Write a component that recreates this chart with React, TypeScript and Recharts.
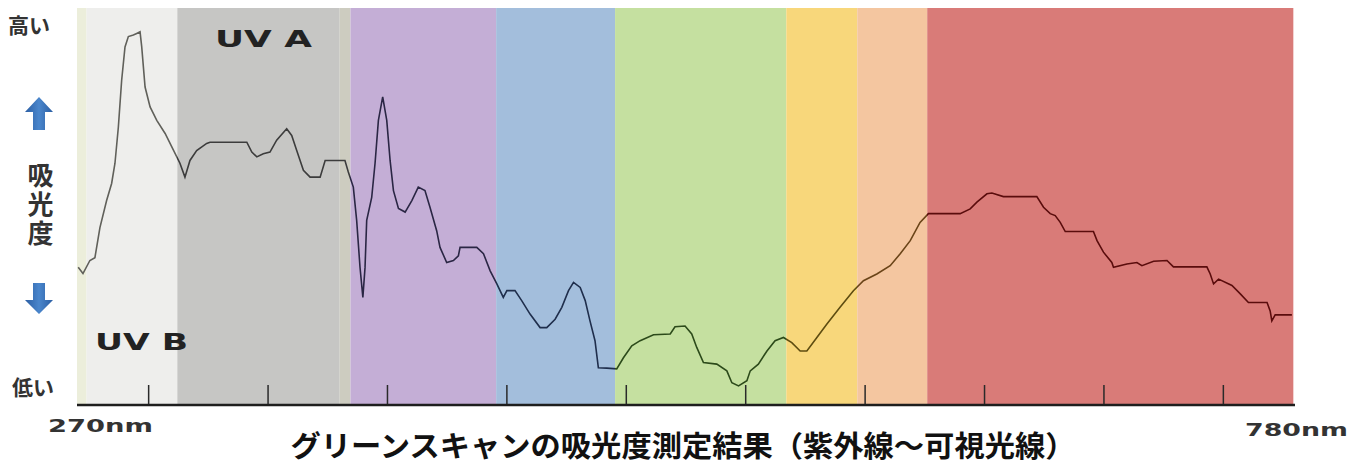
import React from "react"
import { ComposedChart, Line, XAxis, YAxis, ReferenceArea } from "recharts"

// wavelength (nm) and relative absorbance
const wavelengths = [
  270.5, 272.5, 275.4, 277.5, 279.6, 282.4, 284.5, 285.9, 287.3, 288.7,
  290.1, 291.5, 293.6, 295.0, 296.4, 297.1, 298.5, 300.6, 303.4, 306.9,
  309.7, 313.1, 315.2, 317.3, 320.1, 324.3, 325.7, 341.1, 343.2, 345.3,
  348.0, 350.8, 353.6, 357.8, 359.9, 362.0, 364.8, 367.6, 371.8, 373.9,
  382.2, 383.6, 385.7, 387.1, 388.5, 389.7, 390.6, 391.3, 393.4, 394.8,
  396.2, 398.0, 399.7, 401.1, 402.5, 404.6, 407.4, 410.2, 412.9, 415.7,
  417.8, 420.6, 422.0, 424.8, 427.6, 429.7, 430.4, 437.4, 440.2, 443.0,
  445.8, 448.5, 450.0, 453.4, 456.2, 459.7, 463.9, 466.7, 470.2, 473.0,
  475.8, 477.9, 480.7, 482.8, 484.8, 486.9, 488.3, 491.8, 496.0, 498.8,
  502.3, 505.8, 511.4, 518.4, 520.4, 524.6, 527.4, 529.5, 532.3, 537.9,
  542.1, 544.2, 547.0, 550.5, 551.9, 555.3, 558.9, 562.3, 565.8, 569.3,
  572.8, 575.6, 579.8, 584.0, 589.5, 595.1, 599.3, 604.9, 610.5, 614.7,
  618.9, 623.0, 626.5, 639.8, 644.0, 646.8, 651.0, 653.1, 657.9, 671.9,
  674.7, 677.5, 679.6, 681.7, 683.8, 695.6, 697.1, 699.8, 703.3, 704.0,
  709.6, 713.8, 715.9, 720.8, 726.4, 729.1, 743.1, 744.5, 745.9, 748.0,
  753.6, 757.1, 760.5, 768.3, 769.6, 770.3, 771.7, 778.7,
]

const absorbance = [
  34.7, 33.1, 36.4, 37.1, 44.7, 51.5, 55.8, 60.9, 69.9, 81.8,
  90.2, 92.8, 93.2, 93.6, 94.0, 90.2, 80.1, 75.1, 71.7, 68.4,
  65.0, 60.9, 57.4, 61.6, 64.1, 65.9, 66.2, 66.2, 63.7, 62.5,
  63.3, 63.7, 66.7, 69.6, 67.9, 64.1, 59.1, 57.4, 57.4, 61.6,
  61.6, 58.7, 54.9, 46.5, 34.7, 27.1, 34.6, 46.5, 52.3, 60.9,
  71.7, 77.6, 71.7, 61.6, 54.0, 49.5, 48.6, 51.5, 54.9, 54.0,
  49.8, 43.9, 39.7, 35.9, 36.4, 37.6, 39.7, 39.7, 38.1, 33.8,
  30.5, 27.1, 28.8, 28.8, 26.3, 22.9, 19.5, 19.5, 21.6, 24.6,
  28.8, 30.9, 29.6, 26.3, 21.2, 16.2, 9.4, 9.3, 9.1, 11.9,
  14.9, 16.2, 17.7, 17.9, 19.7, 19.9, 17.9, 14.5, 10.7, 10.3,
  8.6, 5.6, 4.8, 6.1, 8.6, 10.3, 13.6, 16.2, 17.0, 15.7,
  13.6, 13.6, 17.0, 20.4, 24.6, 28.8, 31.3, 33.0, 35.1, 38.1,
  41.4, 46.0, 48.2, 48.2, 49.4, 51.1, 53.2, 53.4, 52.5, 52.5,
  49.8, 48.2, 47.7, 46.0, 43.7, 43.7, 41.4, 38.5, 35.9, 34.7,
  35.5, 35.9, 35.1, 36.2, 36.4, 34.8, 34.8, 33.0, 30.5, 31.7,
  30.1, 28.0, 25.8, 25.8, 23.7, 21.2, 22.7, 22.7,
]

// colour bands behind the curve (UV B, UV A, violet ... red)
const bandEdges = [270, 274, 312, 380, 384.5, 445.5, 495.3, 567, 596.7, 626, 779.3]
const bandColors = [
  "#eceedb", "#eeeeec", "#c6c6c4", "#cdccc0", "#c4aed6",
  "#a3bedc", "#c5e0a0", "#f8d77b", "#f4c6a0", "#d97b78",
]

// the trace takes a darker tint of each band
const lineEdges = [312, 384.5, 445.5, 495.3, 567, 596.7, 626]
const lineColors = ["#60605a", "#3c3c3c", "#2a2644", "#1f2e4c", "#2c4a1a", "#5e4c10", "#6a4418", "#5a0c0c"]

const axisTicks = [270, 300, 350, 400, 450, 500, 550, 600, 650, 700, 750, 780]

const data = wavelengths.map((nm, i) => ({ nm, value: absorbance[i] }))

const jpFont = "'Noto Sans CJK JP', 'Noto Sans', sans-serif"
const latinFont = "'DejaVu Sans', Arial, sans-serif"

const AxisTick = (props: any) => {
  const { x, y, payload } = props
  const v = payload.value
  if (v === 270) {
    return (
      <text x={x - 29} y={y + 27} fontFamily={latinFont} fontWeight={700} fontSize={18}
        fill="#333" textLength={105} lengthAdjust="spacingAndGlyphs">270nm</text>
    )
  }
  if (v === 780) {
    return (
      <text x={x - 50} y={y + 31} fontFamily={latinFont} fontWeight={700} fontSize={18}
        fill="#333" textLength={103} lengthAdjust="spacingAndGlyphs">780nm</text>
    )
  }
  return <line x1={x} x2={x} y1={y - 1} y2={y - 20} stroke="#2a2a2a" strokeWidth={1.5} />
}

const first = wavelengths[0]
const last = wavelengths[wavelengths.length - 1]
const off = (nm: number) => ((nm - first) / (last - first)) * 100 + "%"

const Arrow = ({ up, top }: { up: boolean; top: number }) => (
  <g transform={`translate(39 ${top})`}>
    {up ? (
      <path d="M0 0 L14 15 L6 15 L6 33 L-6 33 L-6 15 L-14 15 Z" fill="url(#arrowFill)" />
    ) : (
      <path d="M-6 0 L6 0 L6 17 L14 17 L0 31 L-14 17 L-6 17 Z" fill="url(#arrowFill)" />
    )}
  </g>
)

export default function App() {
  return (
    <div style={{ position: "absolute", left: 0, top: 0, width: 1365, height: 466, background: "#fff" }}>
      <ComposedChart
        width={1365}
        height={466}
        data={data}
        margin={{ top: 8, right: 70, left: 77, bottom: 0 }}
      >
        <defs>
          <linearGradient id="specLine" x1="0" y1="0" x2="1" y2="0">
            {lineColors.map((c, i) => [
              <stop key={"a" + i} offset={i === 0 ? "0%" : off(lineEdges[i - 1])} stopColor={c} />,
              <stop key={"b" + i} offset={i === lineColors.length - 1 ? "100%" : off(lineEdges[i])} stopColor={c} />,
            ])}
          </linearGradient>
        </defs>
        {bandColors.map((c, i) => (
          <ReferenceArea
            key={i}
            x1={bandEdges[i]}
            x2={bandEdges[i + 1]}
            y1={0}
            y2={100}
            fill={c}
            fillOpacity={1}
            stroke="none"
            ifOverflow="visible"
          />
        ))}
        <XAxis
          dataKey="nm"
          type="number"
          domain={[270, 780]}
          ticks={axisTicks}
          interval={0}
          height={61}
          tickSize={0}
          tickMargin={0}
          tickLine={false}
          tick={AxisTick}
          axisLine={{ stroke: "#1e1e1e", strokeWidth: 2.5 }}
        />
        <YAxis hide type="number" domain={[0, 100]} allowDataOverflow />
        <Line
          type="linear"
          dataKey="value"
          stroke="url(#specLine)"
          strokeWidth={1.6}
          dot={false}
          activeDot={false}
          isAnimationActive={false}
        />
      </ComposedChart>

      <svg width={1365} height={466} style={{ position: "absolute", left: 0, top: 0, pointerEvents: "none" }}>
        <defs>
          <linearGradient id="arrowFill" x1="0" y1="0" x2="1" y2="0">
            <stop offset="0%" stopColor="#2b5ea3" />
            <stop offset="50%" stopColor="#4a86cc" />
            <stop offset="100%" stopColor="#2b5ea3" />
          </linearGradient>
        </defs>
        <text x={8} y={33} fontFamily={jpFont} fontWeight={700} fontSize={21} fill="#333">高い</text>
        <Arrow up top={97} />
        <Arrow up={false} top={283} />
        <text x={12} y={395} fontFamily={jpFont} fontWeight={700} fontSize={21} fill="#333">低い</text>

        <text x={215} y={47} fontFamily={latinFont} fontWeight={700} fontSize={23} fill="#222"
          textLength={97} lengthAdjust="spacingAndGlyphs">UV A</text>
        <text x={95} y={350} fontFamily={latinFont} fontWeight={700} fontSize={23} fill="#222"
          textLength={93} lengthAdjust="spacingAndGlyphs">UV B</text>

        <text x={683} y={457} textAnchor="middle" fontFamily={jpFont} fontWeight={700} fontSize={29} fill="#111"
          textLength={785} lengthAdjust="spacingAndGlyphs">
          グリーンスキャンの吸光度測定結果（紫外線～可視光線）
        </text>
      </svg>

      <div
        style={{
          position: "absolute",
          left: 27,
          top: 162,
          writingMode: "vertical-rl",
          fontFamily: jpFont,
          fontWeight: 700,
          fontSize: 26,
          lineHeight: "26px",
          letterSpacing: "3px",
          color: "#333",
        }}
      >
        吸光度
      </div>
    </div>
  )
}
